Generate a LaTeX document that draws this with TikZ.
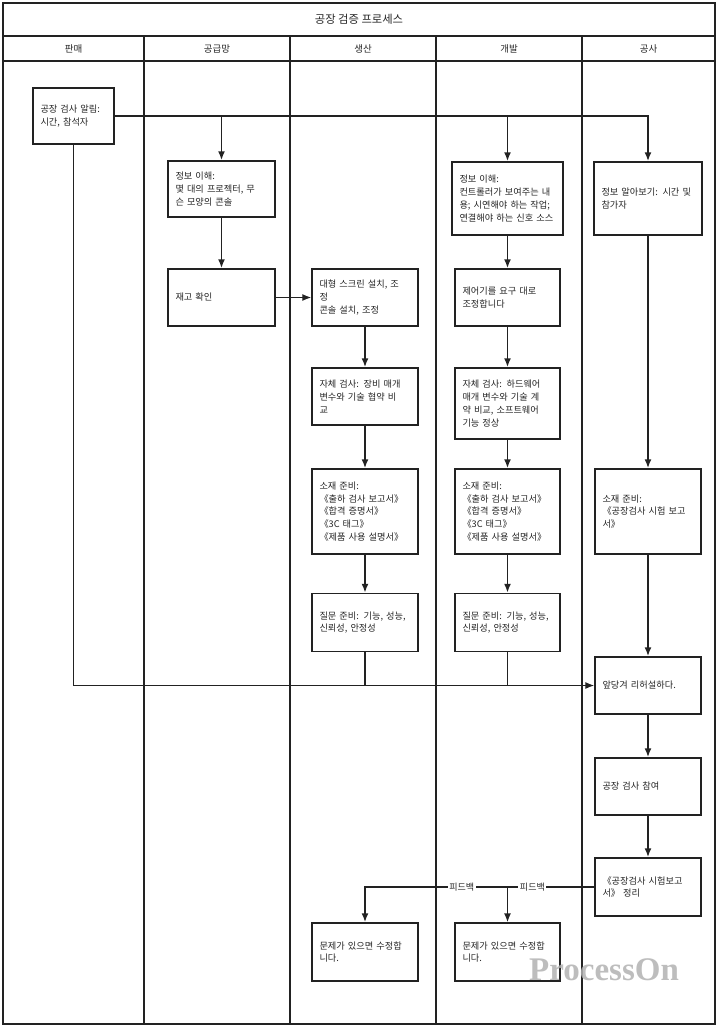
\documentclass[tikz,border=0pt]{standalone}
\usepackage{fontspec}
\setmainfont{Noto Sans CJK KR}
\newfontfamily\wmfont{Liberation Serif}
\usetikzlibrary{arrows.meta}
\definecolor{ink}{HTML}{222222}
\definecolor{txt}{HTML}{262626}

\begin{document}
\begin{tikzpicture}[x=1pt, y=-1pt, >={Latex[length=9pt,width=7pt]},
    lane/.style={draw=ink, line width=1.8pt},
    head/.style={text=txt, font=\fontsize{9.5}{11}\selectfont},
    box/.style={draw=ink, line width=1.4pt, fill=white, text=txt, align=left,
        inner xsep=7.5pt, inner ysep=2pt, text width=91pt, minimum height=57pt,
        font=\fontsize{9.2}{12.8}\selectfont},
    flow/.style={->, draw=ink, line width=1.8pt},
    merge/.style={draw=ink, line width=1.3pt},
    lbl/.style={fill=white, text=txt, inner sep=1.5pt, font=\fontsize{9}{10}\selectfont}]

    \useasboundingbox (0,0) rectangle (718,1029);

    % Corsie
    \draw[lane] (3,3) rectangle (715,1024);
    \draw[lane] (3,36) -- (715,36);
    \draw[lane] (3,61) -- (715,61);
    \foreach \x in {144,290,436,582} \draw[lane] (\x,36) -- (\x,1024);

    % Intestazioni
    \node[head, font=\fontsize{11.3}{13}\selectfont] (title) at (359,19.5) {공장 검증 프로세스};
    \foreach \x/\t [count=\i] in {73.5/판매, 217/공급망, 363/생산, 509/개발, 648.5/공사}
        \node[head] (h\i) at (\x,48.5) {\t};

    % Passi
    \node[box, text width=66pt, minimum height=56pt] (notice) at (73.5,116) {공장 검사 알림:\\시간, 참석자};

    \node[box, text width=92pt, minimum height=56pt] (scinfo) at (221.5,189) {정보 이해:\\몇 대의 프로젝터, 무\\슨 모양의 콘솔};
    \node[box, text width=92pt] (stock) at (221.5,297.5) {재고 확인};

    \node[box] (install) at (365,297.5) {대형 스크린 설치, 조\\정\\콘솔 설치, 조정};
    \node[box] (pcheck) at (365,396.5) {자체 검사: 장비 매개\\변수와 기술 협약 비\\교};
    \node[box, minimum height=85pt] (pdocs) at (365,511.5) {소재 준비:\\《출하 검사 보고서》\\《합격 증명서》\\《3C 태그》\\《제품 사용 설명서》};
    \node[box, minimum height=58pt] (pquest) at (365,622.5) {질문 준비: 기능, 성능,\\신뢰성, 안정성};
    \node[box, minimum height=58pt] (pfix) at (365,952) {문제가 있으면 수정합\\니다.};

    \node[box, text width=96pt, minimum height=73pt] (dinfo) at (507.5,198.5) {정보 이해:\\컨트롤러가 보여주는 내\\용; 시연해야 하는 작업;\\연결해야 하는 신호 소스};
    \node[box, text width=90pt] (dtune) at (507.5,297.5) {제어기를 요구 대로\\조정합니다};
    \node[box, text width=90pt, minimum height=71pt] (dcheck) at (507.5,403.5) {자체 검사: 하드웨어\\매개 변수와 기술 계\\약 비교, 소프트웨어\\기능 정상};
    \node[box, text width=90pt, minimum height=85pt] (ddocs) at (507.5,511.5) {소재 준비:\\《출하 검사 보고서》\\《합격 증명서》\\《3C 태그》\\《제품 사용 설명서》};
    \node[box, text width=90pt, minimum height=58pt] (dquest) at (507.5,622.5) {질문 준비: 기능, 성능,\\신뢰성, 안정성};
    \node[box, text width=90pt, minimum height=58pt] (dfix) at (507.5,952) {문제가 있으면 수정합\\니다.};

    \node[box, text width=93pt, minimum height=73pt] (einfo) at (648,198.5) {정보 알아보기: 시간 및\\참가자};
    \node[box, minimum height=85pt] (edocs) at (648,511.5) {소재 준비:\\《공장검사 시험 보고\\서》};
    \node[box] (rehearse) at (648,685.5) {앞당겨 리허설하다.};
    \node[box] (attend) at (648,786.5) {공장 검사 참여};
    \node[box, minimum height=58pt] (report) at (648,887) {《공장검사 시험보고\\서》 정리};

    % Collegamenti
    \draw[flow] (notice.east) -| (einfo.north);
    \draw[flow] (scinfo.north |- notice.east) -- (scinfo.north);
    \draw[flow] (dinfo.north |- notice.east) -- (dinfo.north);
    \draw[flow, line width=1.3pt] (notice.south) |- (rehearse.west);
    \draw[merge] (pquest.south) -- (pquest.south |- rehearse.west);
    \draw[merge] (dquest.south) -- (dquest.south |- rehearse.west);
    \draw[flow] (scinfo) -- (stock);
    \draw[flow, line width=1.3pt] (stock) -- (install);
    \foreach \a/\b in {install/pcheck, pcheck/pdocs, pdocs/pquest,
        dinfo/dtune, dtune/dcheck, dcheck/ddocs, ddocs/dquest,
        einfo/edocs, edocs/rehearse, rehearse/attend, attend/report}
        \draw[flow] (\a) -- (\b);

    % Feedback
    \draw[flow] (report.west) -| node[lbl, pos=0.135] {피드백} node[lbl, pos=0.289] {피드백} (pfix.north);
    \draw[flow, line width=1.4pt] (dfix.north |- report.west) -- (dfix.north);

    % Filigrana
    \node[text=gray!60, opacity=0.85, font=\wmfont\bfseries\fontsize{33}{33}\selectfont] (mark) at (604,970) {ProcessOn};

\end{tikzpicture}
\end{document}
